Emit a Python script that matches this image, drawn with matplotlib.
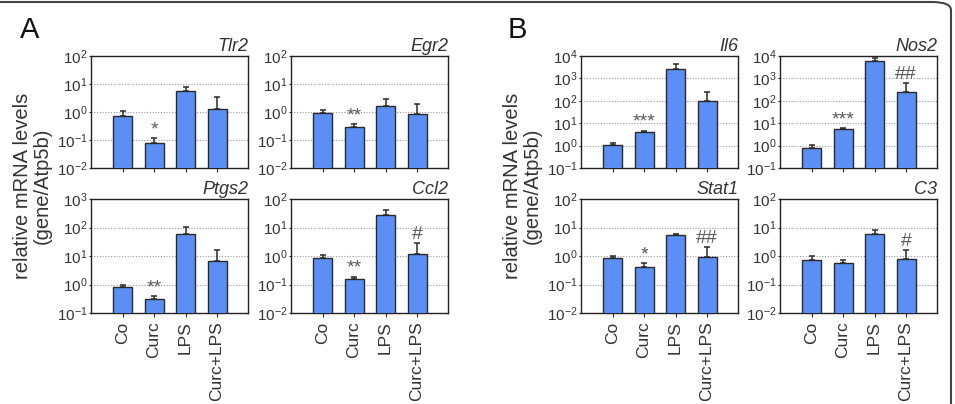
import math
import matplotlib
matplotlib.use("Agg")
import matplotlib.pyplot as plt
from matplotlib.ticker import FixedLocator, FuncFormatter, NullLocator
from matplotlib.patches import FancyBboxPatch

plt.rcParams['font.family'] = ['Liberation Sans', 'DejaVu Sans']
plt.rcParams['mathtext.fontset'] = 'custom'
plt.rcParams['mathtext.rm'] = 'Liberation Sans'
plt.rcParams['mathtext.it'] = 'Liberation Sans:italic'

categories = ['Co', 'Curc', 'LPS', 'Curc+LPS']

# Panel A
tlr2_mean = [0.74, 0.08, 5.8, 1.28]
tlr2_err = [1.09, 0.115, 7.8, 3.5]
tlr2_sig = ['', '*', '', '']

egr2_mean = [0.9, 0.30, 1.7, 0.85]
egr2_err = [1.15, 0.36, 3.0, 1.9]
egr2_sig = ['', '**', '', '']

ptgs2_mean = [0.83, 0.30, 61, 6.5]
ptgs2_err = [0.98, 0.38, 105, 16]
ptgs2_sig = ['', '**', '', '']

ccl2_mean = [0.87, 0.15, 27, 1.17]
ccl2_err = [1.08, 0.19, 40, 2.8]
ccl2_sig = ['', '**', '', '#']

# Panel B
il6_mean = [1.1, 4.2, 2700, 97]
il6_err = [1.3, 4.5, 4400, 235]
il6_sig = ['', '***', '', '']

nos2_mean = [0.78, 5.6, 5800, 235]
nos2_err = [1.1, 6.0, 7900, 620]
nos2_sig = ['', '***', '', '##']

stat1_mean = [0.83, 0.42, 5.4, 0.95]
stat1_err = [0.97, 0.55, 6.0, 2.1]
stat1_sig = ['', '*', '', '##']

c3_mean = [0.70, 0.55, 6.1, 0.78]
c3_err = [0.97, 0.70, 8.0, 1.6]
c3_sig = ['', '', '', '#']

panels = [
    # name, mean, err, sig, ymin_exp, ymax_exp, rect(left, top, right, bottom) px, show_x
    ('Tlr2', tlr2_mean, tlr2_err, tlr2_sig, -2, 2, (91, 56, 248, 168), False),
    ('Egr2', egr2_mean, egr2_err, egr2_sig, -2, 2, (291, 56, 448, 168), False),
    ('Ptgs2', ptgs2_mean, ptgs2_err, ptgs2_sig, -1, 3, (91, 199, 248, 313), True),
    ('Ccl2', ccl2_mean, ccl2_err, ccl2_sig, -2, 2, (291, 199, 448, 313), True),
    ('Il6', il6_mean, il6_err, il6_sig, -1, 4, (581, 56, 738, 168), False),
    ('Nos2', nos2_mean, nos2_err, nos2_sig, -1, 4, (780, 56, 937, 168), False),
    ('Stat1', stat1_mean, stat1_err, stat1_sig, -2, 2, (581, 199, 738, 313), True),
    ('C3', c3_mean, c3_err, c3_sig, -2, 2, (780, 199, 937, 313), True),
]

W, H = 955, 404
fig = plt.figure(figsize=(W / 100, H / 100), dpi=100)

bar_color = '#5b8ff5'
edge_color = '#2a2a2a'
text_color = '#333333'


def fmt(v, pos):
    e = int(round(math.log10(v)))
    return r'$\mathregular{10^{%d}}$' % e


for name, mean, err, sig, lo, hi, (l, t, r, b), show_x in panels:
    ax = fig.add_axes([l / W, 1 - b / H, (r - l) / W, (b - t) / H])
    x = list(range(len(categories)))
    ax.bar(x, mean, width=0.6, color=bar_color, edgecolor=edge_color,
           linewidth=1.0, zorder=3)
    up = [e - m for m, e in zip(mean, err)]
    ax.errorbar(x, mean, yerr=[[0] * len(mean), up], fmt='none',
                ecolor=edge_color, elinewidth=1.1, capsize=2.3, capthick=1.1, zorder=2)
    ax.set_yscale('log')
    ax.set_ylim(10 ** lo, 10 ** hi)
    ax.set_xlim(-1.0, 3.98)
    ticks = [10 ** k for k in range(lo, hi + 1)]
    ax.yaxis.set_major_locator(FixedLocator(ticks))
    ax.yaxis.set_minor_locator(NullLocator())
    ax.yaxis.set_major_formatter(FuncFormatter(fmt))
    for k in range(lo + 1, hi):
        ax.axhline(10 ** k, color='#9a9a9a', linestyle=(0, (1, 1.5)),
                   linewidth=0.8, zorder=1)
    ax.set_xticks(x)
    if show_x:
        ax.set_xticklabels(categories, rotation=90, fontsize=12.5, color=text_color)
    else:
        ax.set_xticklabels([])
    ax.tick_params(axis='x', length=3, width=0.8, color=edge_color, pad=3)
    ax.tick_params(axis='y', length=1.5, width=0.8, color=edge_color, pad=1,
                   labelsize=11, labelcolor=text_color)
    for s in ax.spines.values():
        s.set_linewidth(1.0)
        s.set_color('#222222')
    ax.text(1.0, 1.01, name, transform=ax.transAxes, ha='right', va='bottom',
            fontsize=13, style='italic', color=text_color)
    for xi, (s, e) in enumerate(zip(sig, err)):
        if s:
            ax.text(xi, e * 1.02, s, ha='center', va='bottom', fontsize=14,
                    color='#5a5a5a', zorder=4)

fig.text(20 / W, 1 - 38 / H, 'A', fontsize=21, color='#111111', ha='left', va='baseline')
fig.text(508 / W, 1 - 38 / H, 'B', fontsize=21, color='#111111', ha='left', va='baseline')

for xc in (32 / W, 522 / W):
    fig.text(xc, 1 - 186 / H, 'relative mRNA levels\n(gene/Atp5b)', rotation=90,
             ha='center', va='center', fontsize=14.5, color=text_color,
             multialignment='center', linespacing=1.05)

frame = FancyBboxPatch((-20 / W, -20 / H), (951 + 20) / W, (20 + 402) / H,
                       boxstyle='round,pad=0,rounding_size=0.02',
                       transform=fig.transFigure, fill=False,
                       edgecolor='#444444', linewidth=1.5, clip_on=False)
fig.patches.append(frame)

fig.savefig('out.png', dpi=100)
